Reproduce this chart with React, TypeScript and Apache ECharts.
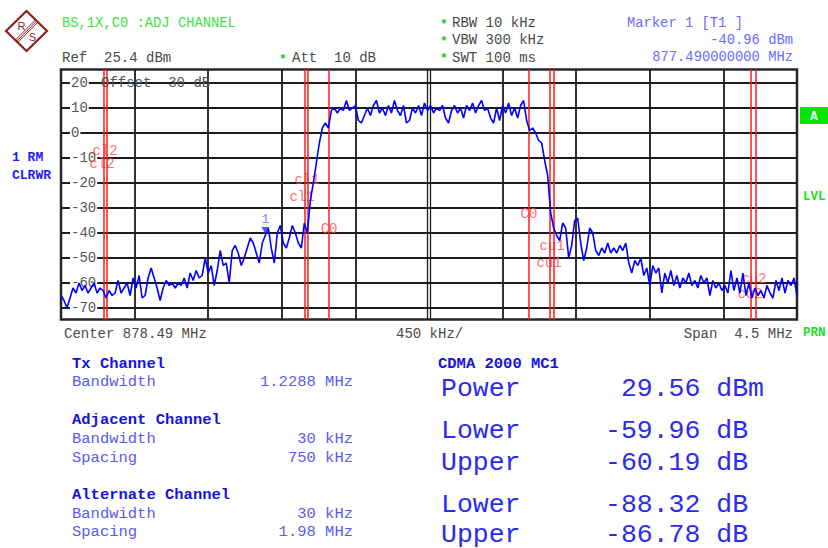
import React, { useEffect, useRef } from "react";
import * as echarts from "echarts";

// ---- Data ----
const START_MHZ = 876.24;
const STOP_MHZ = 880.74;
const CENTER_MHZ = 878.49;
const Y_MIN = -74.6;
const Y_MAX = 25.4;
const yTickValues = [-70, -60, -50, -40, -30, -20, -10, 0, 10, 20];
const xGridMHz = [876.69, 877.14, 877.59, 878.04, 878.94, 879.39, 879.84, 880.29];

const traceDbm = [
  -65, -67, -70, -66, -62, -64, -60, -63, -61, -64,
  -62, -60, -64, -62, -63, -66, -63, -65, -64, -59,
  -64, -62, -60, -65, -58, -62, -57, -66, -65, -58,
  -54, -58, -62, -67, -62, -59, -61, -60, -62, -60,
  -61, -58, -62, -56, -59, -55, -58, -57, -50, -56,
  -53, -61, -55, -47, -53, -52, -60, -47, -45, -48,
  -53, -50, -46, -42,
  -44, -48, -52, -44, -41, -38,
  -46, -52, -40, -37, -44, -46, -42, -37, -40, -44,
  -46, -36, -40, -27, -20, -12, -4, 2, 4, 2,
  9, 10, 8, 10, 9, 13, 9, 10, 11, 5,
  4, 7, 10, 7, 11, 13, 8, 10, 7, 11,
  8, 13, 9, 7, 11, 4, 5, 10, 8, 11,
  7, 12, 9, 11,
  8, 10, 9, 11, 6, 4, 9, 11, 8, 10,
  6, 11, 9, 12, 8, 11, 13, 9, 10, 6,
  4, 10, 5, 11, 8, 12, 7, 10, 6, 11,
  13, 5, 1, 2, 0, -3, -4, -11, -17, -32,
  -38, -41, -43, -36, -38, -50, -45, -35, -34, -44,
  -51, -46, -38, -40, -47, -49, -46, -48, -44, -48,
  -46, -48, -45, -47, -44, -52, -56, -51, -53, -50,
  -57, -54, -61, -53, -56, -54, -64, -56, -60, -55,
  -61, -57, -62, -58, -60, -56, -61, -59, -62, -57,
  -60, -58, -65, -59, -62, -60, -63, -61, -64, -55,
  -63, -58, -64, -56, -65, -60, -66, -62, -65, -63,
  -66, -61, -64, -66, -59, -63, -58, -64, -59, -61,
  -58, -65,
];

const channelLinesMHz = [876.495, 876.525, 877.725, 877.755, 877.8756, 879.1044, 879.225, 879.255, 880.455, 880.485];
const channelLabelNames = ["cl2", "cl2", "cl1", "cl1", "C0", "C0", "cu1", "cu1", "cu2", "cu2"];
const channelLabelMHz = [876.509, 876.491, 877.744, 877.714, 877.879, 879.101, 879.242, 879.224, 880.477, 880.453];
const channelLabelDb = [-7, -12.5, -18.9, -25.7, -38.4, -32.5, -45.2, -52.0, -58.3, -64.3];

const markerMHz = 877.49;
const markerDbm = -40.96;

const MONO = "'Liberation Mono', 'Courier New', monospace";

function txt(text: string, x: number, y: number, o: any = {}) {
  return {
    type: "text",
    x,
    y,
    silent: true,
    z: 100,
    style: {
      text,
      fill: o.color || "#444",
      fontSize: o.size || 14,
      fontFamily: o.family || MONO,
      fontWeight: o.bold ? "bold" : "normal",
      align: o.align || "left",
      verticalAlign: "middle",
    },
  };
}

export default function App() {
  const ref = useRef<HTMLDivElement>(null);

  useEffect(() => {
    if (!ref.current) return;
    const chart = echarts.init(ref.current, undefined, { renderer: "svg" });
    const step = (STOP_MHZ - START_MHZ) / (traceDbm.length - 1);
    const traceData = traceDbm.map((v, i) => [START_MHZ + i * step, v]);
    const labelData = channelLabelNames.map((n, i) => ({ name: n, value: [channelLabelMHz[i], channelLabelDb[i]] }));
    const halfPx = (STOP_MHZ - START_MHZ) / 736;

    const GREEN = "#3fe33f";
    const STAR = "#1fc41f";
    const GREY = "#4a4a4a";
    const MBLUE = "#6a6aff";
    const BOLDBLUE = "#1414e0";
    const LBLUE = "#5a5aee";
    const BIGBLUE = "#2b2bf0";
    const LOGO = "#8e1f1f";

    const graphic: any[] = [
      // logo
      {
        type: "polygon",
        silent: true,
        shape: { points: [[26.5, 11], [47, 31], [26.5, 51], [6, 31]] },
        style: { fill: "none", stroke: LOGO, lineWidth: 2.2 },
      },
      { type: "line", silent: true, shape: { x1: 15.2, y1: 40.2, x2: 35.7, y2: 19.7 }, style: { stroke: LOGO, lineWidth: 1 } },
      { type: "line", silent: true, shape: { x1: 16.4, y1: 41.4, x2: 36.9, y2: 20.9 }, style: { stroke: LOGO, lineWidth: 1 } },
      { type: "line", silent: true, shape: { x1: 17.6, y1: 42.6, x2: 38.1, y2: 22.1 }, style: { stroke: LOGO, lineWidth: 1 } },
      txt("R", 21.5, 26, { color: LOGO, size: 11, family: "'Liberation Sans', Arial, sans-serif", align: "center" }),
      txt("S", 32.5, 37, { color: LOGO, size: 11, family: "'Liberation Sans', Arial, sans-serif", align: "center" }),

      // header
      txt("BS,1X,C0 :ADJ CHANNEL", 62, 23, { color: GREEN, size: 13.8 }),
      txt("Ref  25.4 dBm", 62, 58, { color: GREY, size: 14 }),
      txt("*", 279, 59, { color: STAR, size: 13, bold: true }),
      txt("Att  10 dB", 292, 58, { color: GREY, size: 14 }),
      txt("*", 440, 24, { color: STAR, size: 13, bold: true }),
      txt("RBW 10 kHz", 452, 23, { color: GREY, size: 14 }),
      txt("*", 440, 41, { color: STAR, size: 13, bold: true }),
      txt("VBW 300 kHz", 452, 40, { color: GREY, size: 14 }),
      txt("*", 440, 58.5, { color: STAR, size: 13, bold: true }),
      txt("SWT 100 ms", 452, 57.5, { color: GREY, size: 14 }),
      txt("Marker 1 [T1 ]", 627, 23, { color: MBLUE, size: 13.8 }),
      txt("-40.96 dBm", 793, 40, { color: MBLUE, size: 13.8, align: "right" }),
      txt("877.490000000 MHz", 793, 57.5, { color: MBLUE, size: 13.8, align: "right" }),

      // left side
      txt("1 RM", 12, 157, { color: "#1a1aff", size: 13, bold: true }),
      txt("CLRWR", 12, 175, { color: "#1a1aff", size: 13, bold: true }),

      // right side
      { type: "rect", silent: true, shape: { x: 800, y: 107, width: 28, height: 17 }, style: { fill: "#00e600" } },
      txt("A", 814, 116, { color: "#ffffff", size: 13, bold: true, align: "center" }),
      txt("LVL", 803, 197, { color: "#22dd22", size: 12.5, bold: true }),
      txt("PRN", 803, 333, { color: "#22dd22", size: 12.5, bold: true }),

      // inside plot
      txt("Offset  30 dB", 101, 83, { color: "#555", size: 14 }),

      // bottom axis text
      txt("Center 878.49 MHz", 64, 334, { color: GREY, size: 14 }),
      txt("450 kHz/", 396, 334, { color: GREY, size: 14 }),
      txt("Span  4.5 MHz", 793, 334, { color: GREY, size: 14, align: "right" }),

      // bottom left table
      txt("Tx Channel", 72, 364, { color: BOLDBLUE, size: 15.5, bold: true }),
      txt("Bandwidth", 72, 382, { color: LBLUE, size: 15.5 }),
      txt("1.2288 MHz", 353, 382, { color: LBLUE, size: 15.5, align: "right" }),
      txt("Adjacent Channel", 72, 420, { color: BOLDBLUE, size: 15.5, bold: true }),
      txt("Bandwidth", 72, 438.5, { color: LBLUE, size: 15.5 }),
      txt("30 kHz", 353, 438.5, { color: LBLUE, size: 15.5, align: "right" }),
      txt("Spacing", 72, 457.5, { color: LBLUE, size: 15.5 }),
      txt("750 kHz", 353, 457.5, { color: LBLUE, size: 15.5, align: "right" }),
      txt("Alternate Channel", 72, 495, { color: BOLDBLUE, size: 15.5, bold: true }),
      txt("Bandwidth", 72, 513.5, { color: LBLUE, size: 15.5 }),
      txt("30 kHz", 353, 513.5, { color: LBLUE, size: 15.5, align: "right" }),
      txt("Spacing", 72, 531.5, { color: LBLUE, size: 15.5 }),
      txt("1.98 MHz", 353, 531.5, { color: LBLUE, size: 15.5, align: "right" }),

      // bottom right table
      txt("CDMA 2000 MC1", 438, 364, { color: BOLDBLUE, size: 15.5, bold: true }),
      txt("Power", 441, 389, { color: BIGBLUE, size: 26.5 }),
      txt(" 29.56 dBm", 605, 389, { color: BIGBLUE, size: 26.5 }),
      txt("Lower", 441, 431, { color: BIGBLUE, size: 26.5 }),
      txt("-59.96 dB", 605, 431, { color: BIGBLUE, size: 26.5 }),
      txt("Upper", 441, 462.5, { color: BIGBLUE, size: 26.5 }),
      txt("-60.19 dB", 605, 462.5, { color: BIGBLUE, size: 26.5 }),
      txt("Lower", 441, 505, { color: BIGBLUE, size: 26.5 }),
      txt("-88.32 dB", 605, 505, { color: BIGBLUE, size: 26.5 }),
      txt("Upper", 441, 534.5, { color: BIGBLUE, size: 26.5 }),
      txt("-86.78 dB", 605, 534.5, { color: BIGBLUE, size: 26.5 }),
    ];

    chart.setOption({
      animation: false,
      backgroundColor: "#ffffff",
      grid: {
        left: 61,
        top: 69.5,
        width: 736,
        height: 250,
        show: true,
        borderColor: "#262626",
        borderWidth: 2.5,
        backgroundColor: "transparent",
      },
      xAxis: {
        type: "value",
        min: START_MHZ,
        max: STOP_MHZ,
        axisLine: { show: false },
        axisLabel: { show: false },
        axisTick: { show: false, customValues: xGridMHz },
        splitLine: { show: true, lineStyle: { color: "#1c1c1c", width: 1.8 } },
      },
      yAxis: {
        type: "value",
        min: Y_MIN,
        max: Y_MAX,
        axisLine: { show: false },
        axisTick: { show: false, customValues: yTickValues },
        axisLabel: {
          show: true,
          inside: true,
          customValues: yTickValues,
          margin: 9,
          color: "#555",
          fontSize: 14,
          fontFamily: MONO,
          backgroundColor: "#ffffff",
          padding: [0, 1, 0, 1],
        },
        splitLine: { show: true, lineStyle: { color: "#1c1c1c", width: 1.8 } },
      },
      series: [
        {
          type: "line",
          data: [],
          silent: true,
          z: 1,
          markLine: {
            silent: true,
            symbol: ["none", "none"],
            label: { show: false },
            lineStyle: { color: "#1c1c1c", width: 1.3, type: "solid" },
            emphasis: { disabled: true },
            data: [{ xAxis: CENTER_MHZ - halfPx }, { xAxis: CENTER_MHZ + halfPx * 1.2 }],
          },
        },
        {
          type: "scatter",
          data: labelData,
          symbolSize: 0,
          silent: true,
          z: 3,
          label: {
            show: true,
            position: "inside",
            formatter: (p: any) => p.name,
            color: "#ff4a4a",
            fontSize: 14,
            fontFamily: MONO,
          },
          markLine: {
            silent: true,
            symbol: ["none", "none"],
            label: { show: false },
            lineStyle: { color: "#ff1a1a", width: 1.5, type: "solid" },
            emphasis: { disabled: true },
            data: channelLinesMHz.map((f) => ({ xAxis: f })),
          },
        },
        {
          type: "line",
          data: traceData,
          symbol: "none",
          silent: true,
          z: 5,
          lineStyle: { color: "#0000ff", width: 1.6 },
        },
        {
          type: "scatter",
          data: [[markerMHz, markerDbm]],
          symbol: "triangle",
          symbolRotate: 180,
          symbolSize: [8, 7],
          symbolOffset: [0, -5],
          silent: true,
          z: 6,
          itemStyle: { color: "#2a2aff" },
          label: { show: true, formatter: "1", position: "top", distance: 1, color: "#5a5aff", fontSize: 13, fontFamily: MONO },
        },
      ],
      graphic,
    });

    return () => chart.dispose();
  }, []);

  return <div ref={ref} style={{ position: "fixed", left: 0, top: 0, width: 828, height: 548 }} />;
}
